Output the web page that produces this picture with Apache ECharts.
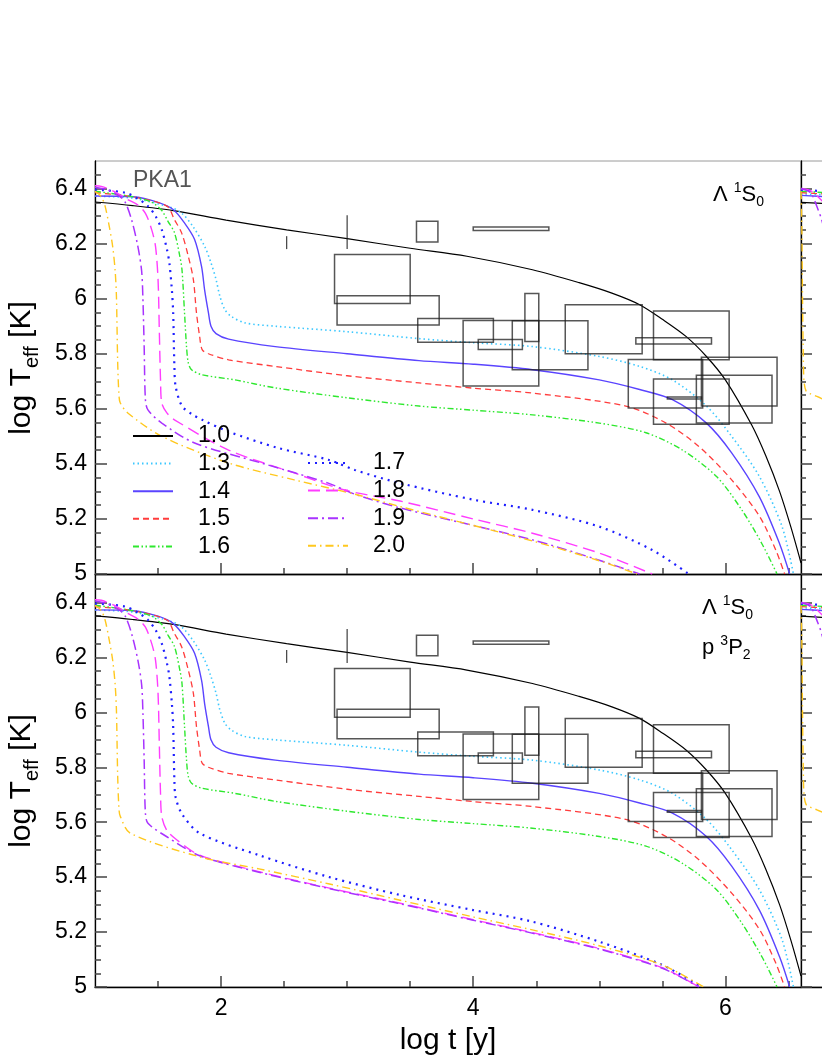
<!DOCTYPE html>
<html><head><meta charset="utf-8">
<script src="https://cdn.jsdelivr.net/npm/echarts@6/dist/echarts.min.js"></script>
<style>html,body{margin:0;padding:0;background:#fff}#c{width:822px;height:1064px}</style>
</head><body><div id="c"></div>
<script>
// ---------- tick values ----------
const xMajor = [2, 4, 6];
const xMinor = [1.5, 2.5, 3, 3.5, 4.5, 5, 5.5, 6.5];
const yMajor = [5, 5.2, 5.4, 5.6, 5.8, 6, 6.2, 6.4];
const yMinor = [5.05,5.1,5.15,5.25,5.3,5.35,5.45,5.5,5.55,5.65,5.7,5.75,5.85,5.9,5.95,6.05,6.1,6.15,6.25,6.3,6.35,6.45];

// ---------- model curves (log t, log Teff) ----------
const c10 = [[1.0,6.351],[1.3,6.338],[1.62,6.32],[2.04,6.285],[2.52,6.25],[3.0,6.218],[3.5,6.183],[3.95,6.154],[4.47,6.105],[4.84,6.058],[5.1,6.02],[5.32,5.978],[5.5,5.925],[5.69,5.862],[5.85,5.79],[6.0,5.705],[6.21,5.54],[6.32,5.43],[6.43,5.30],[6.52,5.17],[6.6,5.04]];
const c13 = [[1.0,6.372],[1.3,6.365],[1.61,6.33],[1.69,6.31],[1.78,6.26],[1.87,6.19],[1.92,6.13],[1.96,6.07],[1.99,6.01],[2.03,5.96],[2.08,5.936],[2.19,5.912],[2.43,5.90],[3.0,5.88],[3.57,5.855],[4.0,5.84],[4.47,5.826],[5.0,5.79],[5.32,5.754],[5.58,5.705],[5.85,5.61],[6.05,5.50],[6.27,5.354],[6.45,5.172],[6.54,5.0]];
const c14 = [[1.0,6.373],[1.3,6.37],[1.5,6.35],[1.62,6.324],[1.71,6.275],[1.79,6.215],[1.845,6.117],[1.87,6.03],[1.90,5.948],[1.92,5.90],[1.96,5.873],[2.06,5.853],[2.43,5.826],[3.0,5.80],[3.57,5.775],[4.0,5.762],[4.47,5.742],[5.0,5.705],[5.32,5.67],[5.58,5.633],[5.85,5.548],[6.05,5.44],[6.27,5.28],[6.43,5.11],[6.51,5.0]];
const c15 = [[1.0,6.385],[1.3,6.37],[1.57,6.336],[1.63,6.287],[1.687,6.239],[1.74,6.154],[1.78,6.07],[1.805,5.948],[1.83,5.863],[1.85,5.815],[1.90,5.80],[2.06,5.778],[2.43,5.754],[3.0,5.72],[3.57,5.694],[4.0,5.675],[4.47,5.657],[5.21,5.61],[5.53,5.548],[5.79,5.463],[6.05,5.342],[6.27,5.21],[6.40,5.087],[6.47,5.0]];
const c16 = [[1.0,6.39],[1.3,6.37],[1.45,6.35],[1.53,6.32],[1.58,6.28],[1.63,6.24],[1.673,6.154],[1.69,6.105],[1.71,5.95],[1.726,5.826],[1.74,5.767],[1.766,5.742],[1.845,5.724],[2.11,5.705],[2.43,5.676],[3.0,5.64],[3.57,5.61],[4.0,5.595],[4.47,5.578],[5.0,5.548],[5.37,5.513],[5.66,5.45],[5.93,5.354],[6.13,5.233],[6.29,5.11],[6.41,5.0]];
// top panel (Lambda 1S0)
const c17t = [[1.0,6.396],[1.24,6.385],[1.35,6.36],[1.42,6.336],[1.48,6.30],[1.53,6.25],[1.57,6.18],[1.59,6.13],[1.61,6.03],[1.62,5.95],[1.63,5.75],[1.64,5.68],[1.69,5.61],[1.77,5.58],[1.85,5.56],[2.06,5.517],[2.45,5.458],[2.85,5.415],[3.06,5.378],[3.42,5.33],[4.0,5.27],[4.47,5.233],[5.0,5.172],[5.42,5.087],[5.71,5.0]];
const c18t = [[1.0,6.41],[1.05,6.408],[1.15,6.39],[1.26,6.36],[1.34,6.34],[1.40,6.31],[1.45,6.25],[1.48,6.19],[1.50,6.07],[1.51,5.887],[1.52,5.7],[1.53,5.62],[1.57,5.585],[1.63,5.56],[2.06,5.45],[2.58,5.367],[2.98,5.305],[3.42,5.265],[4.0,5.2],[4.47,5.148],[5.0,5.076],[5.42,5.0]];
const c19t = [[1.0,6.405],[1.1,6.395],[1.2,6.37],[1.24,6.35],[1.29,6.287],[1.34,6.19],[1.37,6.10],[1.38,6.0],[1.39,5.826],[1.40,5.633],[1.42,5.596],[1.53,5.548],[1.79,5.476],[2.32,5.403],[2.85,5.33],[3.06,5.29],[3.42,5.24],[4.47,5.124],[5.0,5.05],[5.32,5.0]];
const c20t = [[1.0,6.39],[1.05,6.37],[1.08,6.336],[1.11,6.27],[1.14,6.19],[1.16,6.1],[1.17,6.008],[1.18,5.767],[1.19,5.65],[1.20,5.622],[1.26,5.585],[1.53,5.50],[2.06,5.403],[2.58,5.342],[3.06,5.29],[3.42,5.245],[4.47,5.12],[5.0,5.048],[5.3,5.0]];
// bottom panel (Lambda 1S0 + p 3P2)
const c17b = [[1.0,6.396],[1.24,6.385],[1.35,6.36],[1.42,6.336],[1.48,6.30],[1.53,6.25],[1.57,6.18],[1.59,6.13],[1.61,6.03],[1.62,5.95],[1.63,5.75],[1.64,5.69],[1.69,5.63],[1.83,5.56],[2.3,5.48],[2.86,5.40],[3.42,5.335],[4.0,5.28],[4.45,5.24],[5.0,5.165],[5.5,5.08],[5.81,5.0]];
const c18b = [[1.0,6.41],[1.05,6.408],[1.15,6.39],[1.26,6.36],[1.34,6.34],[1.40,6.31],[1.45,6.25],[1.48,6.19],[1.50,6.07],[1.51,5.887],[1.52,5.7],[1.53,5.62],[1.57,5.57],[1.65,5.535],[1.83,5.48],[2.3,5.42],[2.86,5.36],[3.42,5.305],[4.0,5.245],[4.45,5.2],[5.0,5.14],[5.5,5.07],[5.79,5.0]];
const c19b = [[1.0,6.405],[1.1,6.395],[1.2,6.37],[1.24,6.35],[1.29,6.287],[1.34,6.19],[1.37,6.10],[1.38,6.0],[1.39,5.826],[1.40,5.633],[1.42,5.596],[1.57,5.547],[1.83,5.478],[2.3,5.418],[2.86,5.358],[3.42,5.303],[4.0,5.243],[4.45,5.198],[5.0,5.138],[5.5,5.068],[5.79,5.0]];
const c20b = [[1.0,6.39],[1.05,6.37],[1.08,6.336],[1.11,6.27],[1.14,6.19],[1.16,6.1],[1.17,6.008],[1.18,5.767],[1.19,5.65],[1.20,5.622],[1.28,5.56],[1.83,5.474],[2.3,5.43],[2.86,5.375],[3.42,5.316],[4.0,5.255],[4.45,5.21],[5.0,5.15],[5.5,5.08],[5.83,5.0]];
// neighbouring (cut-off) panel on the right
const r10 = [[1.0,6.35],[1.2,6.345]];
const r13 = [[1.0,6.38],[1.2,6.378]];
const r14 = [[1.0,6.375],[1.2,6.37]];
const r15 = [[1.0,6.385],[1.2,6.38]];
const r16 = [[1.0,6.39],[1.2,6.385]];
const r17 = [[1.0,6.395],[1.2,6.39]];
const r18 = [[1.0,6.40],[1.06,6.395],[1.1,6.385],[1.2,6.34]];
const r19 = [[1.0,6.40],[1.06,6.39],[1.085,6.38],[1.135,6.324],[1.164,6.287],[1.2,6.22]];
const r20 = [[1.0,6.39],[1.005,6.3],[1.008,6.2],[1.012,6.0],[1.018,5.8],[1.024,5.7],[1.04,5.665],[1.071,5.655],[1.126,5.645],[1.2,5.63]];

// ---------- observations: [t0, t1, T0, T1] boxes and [t, T0, T1] bars ----------
const obsBoxes = [
  [2.90,3.50,5.982,6.16],[2.92,3.73,5.904,6.011],[3.55,3.72,6.206,6.281],[4.0,4.6,6.248,6.26],
  [3.56,4.16,5.842,5.928],[3.92,4.52,5.683,5.921],[4.04,4.39,5.815,5.852],[4.31,4.91,5.742,5.92],
  [4.41,4.52,5.844,6.019],[4.73,5.34,5.80,5.978],[5.43,6.03,5.778,5.955],[5.29,5.89,5.835,5.858],
  [5.23,5.82,5.603,5.779],[5.81,6.41,5.61,5.787],[5.43,6.03,5.544,5.708],[5.77,6.37,5.548,5.722],
  [5.54,5.81,5.636,5.643]
];
const obsBars = [[2.52,6.18,6.227],[3.0,6.18,6.303]];

const legendLeft = ['1.0','1.3','1.4','1.5','1.6'];
const legendRight = ['1.7','1.8','1.9','2.0'];

// ---------- styles ----------
const FF = '"Liberation Sans", Arial, Helvetica, sans-serif';
const ST = {
  '1.0': {c:'#000000', w:1.2, t:'solid'},
  '1.3': {c:'#3cc8ff', w:1.6, t:[1.5,3]},
  '1.4': {c:'#5a44ff', w:1.4, t:'solid'},
  '1.5': {c:'#ff3c3c', w:1.3, t:[6,4]},
  '1.6': {c:'#2ee82e', w:1.4, t:[6,2.5,1.5,2.5,1.5,2.5]},
  '1.7': {c:'#1e1eff', w:2.2, t:[2,5]},
  '1.8': {c:'#ff3cff', w:1.4, t:[12,6]},
  '1.9': {c:'#a833ff', w:1.5, t:[10,4,2,4]},
  '2.0': {c:'#ffc81e', w:1.4, t:[8,4,1.5,4]}
};

const chart = echarts.init(document.getElementById('c'), null, {renderer:'canvas'});

const grids = [
  {left:95, top:161, width:706, height:413},
  {left:95, top:575, width:706, height:412},
  {left:801, top:161, width:706, height:413},
  {left:801, top:575, width:706, height:412}
].map(g => Object.assign({show:true, borderColor:'#9a9a9a', borderWidth:1, backgroundColor:'transparent', containLabel:false, outerBoundsMode:'none'}, g));

const tickStyle = {color:'#444', width:1.5};
function xAx(gi, ticks, len, labels, line) {
  return {type:'value', gridIndex:gi, min:1, max:6.6, position:'bottom', offset:0,
    axisLine:{show:line, onZero:false, lineStyle:{color:'#000', width:1.3}},
    axisTick:{show:ticks.length>0, inside:true, length:len, customValues:ticks.length?ticks:undefined, lineStyle:tickStyle},
    axisLabel:{show:labels, customValues:xMajor, fontSize:23, color:'#000', fontFamily:FF, margin:10},
    splitLine:{show:false}, minorTick:{show:false}, minorSplitLine:{show:false}};
}
function yAx(gi, ticks, len, labels, line) {
  return {type:'value', gridIndex:gi, min:5, max:6.5, position:'left', offset:0,
    axisLine:{show:line, onZero:false, lineStyle:{color:'#000', width:1.3}},
    axisTick:{show:true, inside:true, length:len, customValues:ticks, lineStyle:tickStyle},
    axisLabel:{show:labels, customValues:yMajor, fontSize:23, color:'#000', fontFamily:FF, margin:8},
    splitLine:{show:false}, minorTick:{show:false}, minorSplitLine:{show:false}};
}
const xAxis = [
  xAx(0, xMajor, 11, false, true), xAx(0, xMinor, 6, false, false),
  xAx(1, xMajor, 11, true, true),  xAx(1, xMinor, 6, false, false),
  xAx(2, [], 0, false, true), xAx(3, [], 0, false, true)
];
const yAxis = [
  yAx(0, yMajor, 12, true, true), yAx(0, yMinor, 6, false, false),
  yAx(1, yMajor, 12, true, true), yAx(1, yMinor, 6, false, false),
  yAx(2, yMajor, 11, false, true), yAx(2, yMinor, 5, false, false),
  yAx(3, yMajor, 11, false, true), yAx(3, yMinor, 5, false, false)
];

function line(name, data, xi, yi) {
  const s = ST[name];
  return {type:'line', name, data, xAxisIndex:xi, yAxisIndex:yi, symbol:'none', showSymbol:false,
    smooth:0.3, clip:true, silent:true, z:3,
    lineStyle:{color:s.c, width:s.w, type:s.t}, itemStyle:{color:s.c}};
}
function boxSeries(xi, yi) {
  return {type:'custom', xAxisIndex:xi, yAxisIndex:yi, data:obsBoxes, clip:true, silent:true, z:4,
    encode:{x:[0,1], y:[2,3]},
    renderItem:function(p, api){
      const a = api.coord([api.value(0), api.value(2)]);
      const b = api.coord([api.value(1), api.value(3)]);
      return {type:'rect', shape:{x:Math.min(a[0],b[0]), y:Math.min(a[1],b[1]), width:Math.abs(b[0]-a[0]), height:Math.abs(b[1]-a[1])},
        style:{fill:'none', stroke:'rgba(30,30,30,0.75)', lineWidth:1.5}};
    }};
}
function barSeries(xi, yi) {
  return {type:'custom', xAxisIndex:xi, yAxisIndex:yi, data:obsBars, clip:true, silent:true, z:4,
    encode:{x:0, y:[1,2]},
    renderItem:function(p, api){
      const a = api.coord([api.value(0), api.value(1)]);
      const b = api.coord([api.value(0), api.value(2)]);
      return {type:'line', shape:{x1:a[0], y1:a[1], x2:b[0], y2:b[1]}, style:{stroke:'rgba(30,30,30,0.8)', lineWidth:1.3}};
    }};
}

const topSet = {'1.0':c10,'1.3':c13,'1.4':c14,'1.5':c15,'1.6':c16,'1.7':c17t,'1.8':c18t,'1.9':c19t,'2.0':c20t};
const botSet = {'1.0':c10,'1.3':c13,'1.4':c14,'1.5':c15,'1.6':c16,'1.7':c17b,'1.8':c18b,'1.9':c19b,'2.0':c20b};
const rightSet = {'1.0':r10,'1.3':r13,'1.4':r14,'1.5':r15,'1.6':r16,'1.7':r17,'1.8':r18,'1.9':r19,'2.0':r20};

const series = [];
Object.keys(topSet).forEach(k => series.push(line(k, topSet[k], 0, 0)));
Object.keys(botSet).forEach(k => series.push(line(k, botSet[k], 2, 2)));
Object.keys(rightSet).forEach(k => series.push(line(k, rightSet[k], 4, 4)));
Object.keys(rightSet).forEach(k => series.push(line(k, rightSet[k], 5, 6)));
series.push(boxSeries(0,0), barSeries(0,0), boxSeries(2,2), barSeries(2,2));

function legend(data, left, top) {
  return {data, left, top, orient:'vertical', padding:0, itemGap:3.6, itemWidth:40, itemHeight:14,
    selectedMode:false, backgroundColor:'transparent',
    itemStyle:{opacity:0, borderWidth:0},
    textStyle:{fontSize:23, color:'#000', fontFamily:FF, lineHeight:24, padding:[0,0,0,20]}};
}

const rich3 = {
  a:{fontSize:22, fontFamily:FF, lineHeight:28, fill:'#000'},
  s:{fontSize:14, fontFamily:FF, lineHeight:14, verticalAlign:'top', fill:'#000'},
  u:{fontSize:14, fontFamily:FF, lineHeight:14, verticalAlign:'bottom', fill:'#000'}
};
function yTitle(cy) {
  return {type:'text', x:22, y:cy, rotation:Math.PI/2, z:10,
    style:{text:'{a|log T}{b|eff}{a| [K]}', align:'center', verticalAlign:'middle', fill:'#000',
      rich:{a:{fontSize:30, fontFamily:FF, lineHeight:40, fill:'#000'}, b:{fontSize:20, fontFamily:FF, lineHeight:20, verticalAlign:'bottom', fill:'#000'}}}};
}

chart.setOption({
  animation:false,
  backgroundColor:'#fff',
  grid:grids, xAxis, yAxis, series,
  legend:[legend(legendLeft, 132, 424), legend(legendRight, 307, 451)],
  graphic:[
    yTitle(368), yTitle(781),
    {type:'text', x:448, y:1041, z:10, style:{text:'log t [y]', fontSize:30, fontFamily:FF, fill:'#000', align:'center', verticalAlign:'middle'}},
    {type:'text', x:133, y:181, z:10, style:{text:'PKA1', fontSize:23, fontFamily:FF, fill:'#555', align:'left', verticalAlign:'middle'}},
    {type:'text', x:713, y:195, z:10, style:{text:'{a|Λ }{s|1}{a|S}{u|0}', rich:rich3, align:'left', verticalAlign:'middle'}},
    {type:'text', x:702, y:608, z:10, style:{text:'{a|Λ }{s|1}{a|S}{u|0}', rich:rich3, align:'left', verticalAlign:'middle'}},
    {type:'text', x:702, y:648, z:10, style:{text:'{a|p }{s|3}{a|P}{u|2}', rich:rich3, align:'left', verticalAlign:'middle'}}
  ]
});
</script>
</body></html>
